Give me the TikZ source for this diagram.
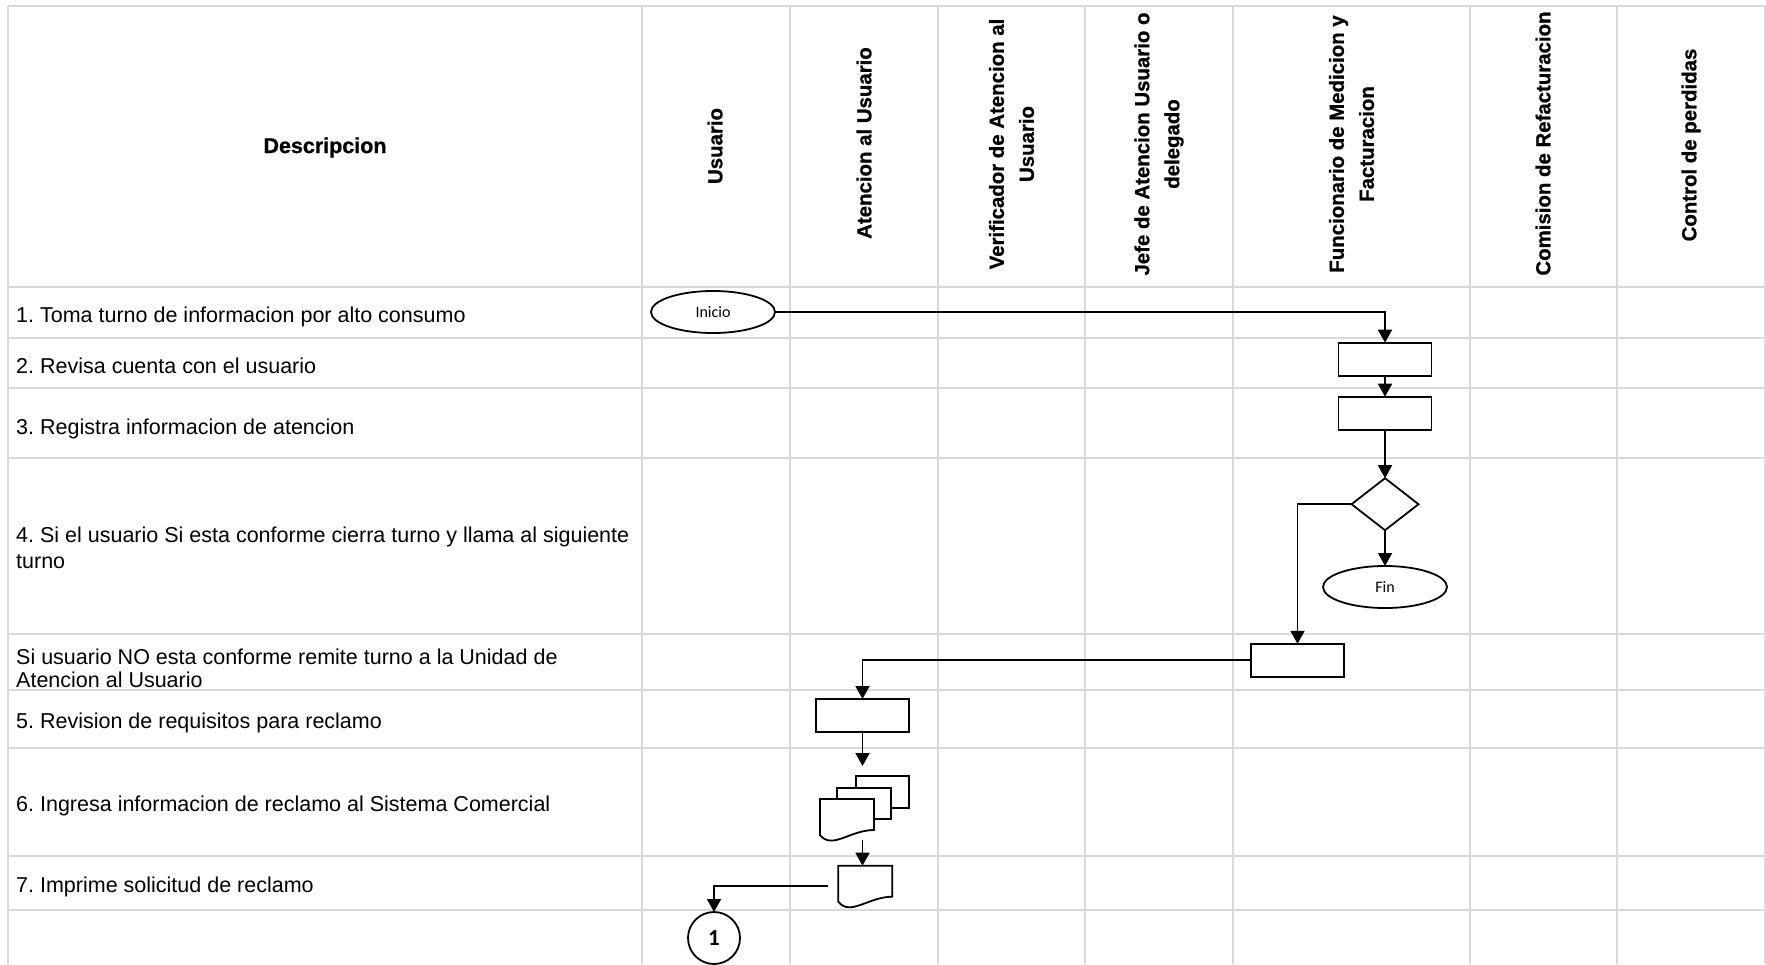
\documentclass[tikz,border=0pt]{standalone}
\usepackage{fontspec}
\setmainfont{Liberation Sans}
\newfontfamily\calfont{Carlito}
\newfontfamily\headfont[FakeBold=0.8]{Liberation Sans Bold}
\usetikzlibrary{shapes.geometric,arrows.meta}
\definecolor{gridgray}{RGB}{217,217,217}

\begin{document}
\frenchspacing
\begin{tikzpicture}[x=1pt,y=-1pt,
  cellline/.style={draw=gridgray,line width=2pt},
  rowtxt/.style={anchor=base west,inner sep=0pt,font=\fontsize{21.5}{24}\selectfont},
  colhead/.style={rotate=90,align=center,inner sep=0pt,font=\headfont\fontsize{20.4}{30}\selectfont},
  flow/.style={draw=black,line width=1.8pt},
  proc/.style={flow,rectangle,minimum width=93pt,minimum height=33pt,inner sep=0pt,outer sep=0pt},
  term/.style={flow,ellipse,minimum width=124pt,minimum height=42pt,inner sep=0pt,outer sep=0pt,font=\calfont\fontsize{16}{18}\selectfont},
  decision/.style={flow,diamond,minimum width=67pt,minimum height=52pt,inner sep=0pt,outer sep=0pt},
  area/.style={rectangle,draw=none,inner sep=0pt,outer sep=0pt},
  conn/.style={line width=1.8pt,line join=miter,-{Triangle[width=14pt,length=13pt]}},
]
\useasboundingbox (0,0) rectangle (1766,964);

% table grid
\foreach \yy in {6,287,337.5,388,458,634,690,748,856,910}
  \draw[cellline] (8,\yy) -- (1766,\yy);
\foreach \xx in {8,642,790,938,1085,1233,1470,1617,1765}
  \draw[cellline] (\xx,6) -- (\xx,964);

% header row
\node[font=\headfont\fontsize{21.5}{24}\selectfont] (hdesc) at (325,147.5) {Descripcion};
\node[colhead] (husu) at (715,146) {Usuario};
\node[colhead] (hate) at (864,143) {Atencion al Usuario};
\node[colhead] (hver) at (1011.5,144) {Verificador de Atencion al\\Usuario};
\node[colhead] (hjef) at (1159,144) {Jefe de Atencion Usuario o\\delegado};
\node[colhead] (hfun) at (1351.5,144) {Funcionario de Medicion y\\Facturacion};
\node[colhead] (hcom) at (1543,143.5) {Comision de Refacturacion};
\node[colhead] (hcon) at (1691,145) {Control de perdidas};

% step descriptions
\node[rowtxt] (r1) at (16,322) {1. Toma turno de informacion por alto consumo};
\node[rowtxt] (r2) at (16,373) {2. Revisa cuenta con el usuario};
\node[rowtxt] (r3) at (16,434) {3. Registra informacion de atencion};
\node[rowtxt] (r4a) at (16,542) {4. Si el usuario Si esta conforme cierra turno y llama al siguiente};
\node[rowtxt] (r4b) at (16,568) {turno};
\node[rowtxt] (r5a) at (16,664) {Si usuario NO esta conforme remite turno a la Unidad de};
\node[rowtxt] (r5b) at (16,687) {Atencion al Usuario};
\node[rowtxt] (r6) at (16,728) {5. Revision de requisitos para reclamo};
\node[rowtxt] (r7) at (16,811) {6. Ingresa informacion de reclamo al Sistema Comercial};
\node[rowtxt] (r8) at (16,892) {7. Imprime solicitud de reclamo};

% flow symbols
\node[term] (inicio) at (713,312) {Inicio};
\node[proc] (revisa) at (1385,359.2) {};
\node[proc] (registra) at (1385,413.2) {};
\node[decision] (conforme) at (1385,504.2) {};
\node[term] (fin) at (1385,587) {Fin};
\node[proc] (remite) at (1297.5,660.3) {};
\node[proc] (requisitos) at (862.5,715.5) {};
\node[area,minimum width=89pt,minimum height=64pt] (ingresa) at (864.5,808) {};
\node[area,minimum width=54pt,minimum height=41pt] (imprime) at (865.3,886.2) {};
\node[flow,circle,minimum size=52pt,inner sep=0pt,outer sep=0pt,
      font=\calfont\bfseries\fontsize{23}{26}\selectfont] (conector) at (714,938) {1};

% stacked documents (back, middle, front)
\begin{scope}[shift={(ingresa.north east)}]
  \draw[flow,fill=white] (-53.3,0) rectangle (0,31.7);
  \draw[flow,fill=white] (-72.3,11.7) rectangle (-18.3,43);
\end{scope}
\begin{scope}[shift={(ingresa.south west)}]
  \draw[flow,fill=white,line join=miter] (0,-41) -- (54,-41) -- (54,-10)
    .. controls (30,-10) and (12,10) .. (0,-5) -- cycle;
\end{scope}
% single printed document
\begin{scope}[shift={(imprime.south west)}]
  \draw[flow,fill=white,line join=miter] (0,-41) -- (54,-41) -- (54,-10)
    .. controls (30,-10) and (12,10) .. (0,-5) -- cycle;
\end{scope}

% connectors
\draw[conn] (inicio.east) -| (revisa.north);
\draw[conn] (revisa.south) -- (registra.north);
\draw[conn] (registra.south) -- (conforme.north);
\draw[conn] (conforme.south) -- (fin.north);
\draw[conn] (conforme.west) -| (remite.north);
\draw[conn] (remite.west) -| (requisitos.north);
\draw[conn,shorten >=10pt] (requisitos.south) -- (requisitos.south |- ingresa.north);
\draw[conn] (requisitos.south |- ingresa.south) -- (requisitos.south |- imprime.north);
\draw[conn,shorten <=10pt] (imprime.west) -| (conector.north);
\end{tikzpicture}
\end{document}
